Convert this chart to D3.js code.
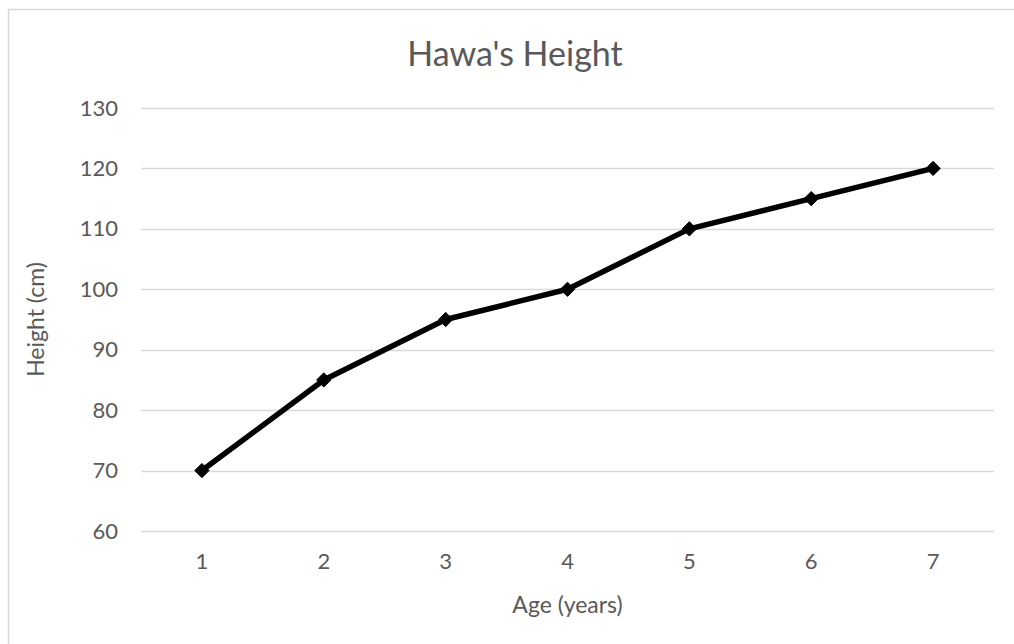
<!DOCTYPE html>
<html>
<head>
<meta charset="utf-8">
<script src="https://cdn.jsdelivr.net/npm/d3@7"></script>
<style>
  html, body { margin: 0; padding: 0; background: #fff; }
  svg { display: block; font-family: Lato, "Open Sans", sans-serif; }
</style>
</head>
<body>
<svg id="chart" width="1014" height="644"></svg>
<script>
// Hawa's height by age
const ages = ["1", "2", "3", "4", "5", "6", "7"];
const heights = [70, 85, 95, 100, 110, 115, 120];
const yTicks = [60, 70, 80, 90, 100, 110, 120, 130];

const titleText = "Hawa's Height";
const xTitle = "Age (years)";
const yTitle = "Height (cm)";

const svg = d3.select("#chart");
const W = 1014, H = 644;
const plot = { left: 141, right: 994, top: 108, bottom: 531 };
const textColor = "#595959";
const gridColor = "#d9d9d9";
const font = "Lato, 'Open Sans', sans-serif";

// outer chart frame
svg.append("rect")
  .attr("x", 8.5).attr("y", 9.5)
  .attr("width", W + 20).attr("height", H + 20)
  .attr("fill", "#fff")
  .attr("stroke", gridColor).attr("stroke-width", 1.5);

const x = d3.scaleBand().domain(ages).range([plot.left, plot.right]).padding(0);
const y = d3.scaleLinear().domain([60, 130]).range([plot.bottom, plot.top]);

// horizontal gridlines
svg.append("g")
  .selectAll("line")
  .data(yTicks)
  .join("line")
  .attr("x1", plot.left).attr("x2", plot.right)
  .attr("y1", d => Math.round(y(d)) + 0.5).attr("y2", d => Math.round(y(d)) + 0.5)
  .attr("stroke", gridColor).attr("stroke-width", 1.5);

// y axis labels
const yAxis = d3.axisLeft(y).tickValues(yTicks).tickSize(0).tickPadding(0);
svg.append("g")
  .attr("transform", `translate(${plot.left - 23},0)`)
  .call(yAxis)
  .call(g => g.select(".domain").remove())
  .call(g => g.selectAll("text")
    .attr("fill", textColor)
    .attr("font-size", 22)
    .attr("font-family", font));

// x axis labels
const xAxis = d3.axisBottom(x).tickSize(0).tickPadding(0);
svg.append("g")
  .attr("transform", `translate(0,${plot.bottom + 22})`)
  .call(xAxis)
  .call(g => g.select(".domain").remove())
  .call(g => g.selectAll("text")
    .attr("fill", textColor)
    .attr("font-size", 22)
    .attr("font-family", font));

// title
svg.append("text")
  .attr("x", 515)
  .attr("y", 66)
  .attr("text-anchor", "middle")
  .attr("fill", textColor)
  .attr("font-size", 34)
  .text(titleText);

// axis titles
svg.append("text")
  .attr("x", (plot.left + plot.right) / 2)
  .attr("y", 613)
  .attr("text-anchor", "middle")
  .attr("fill", textColor)
  .attr("font-size", 23)
  .text(xTitle);

svg.append("text")
  .attr("transform", `translate(44,${(plot.top + plot.bottom) / 2}) rotate(-90)`)
  .attr("text-anchor", "middle")
  .attr("fill", textColor)
  .attr("font-size", 23)
  .text(yTitle);

// data line
const cx = d => x(d) + x.bandwidth() / 2;
const line = d3.line()
  .x((d, i) => cx(ages[i]))
  .y(d => y(d));

svg.append("path")
  .datum(heights)
  .attr("d", line)
  .attr("fill", "none")
  .attr("stroke", "#000")
  .attr("stroke-width", 5.5)
  .attr("stroke-linejoin", "round");

// diamond markers
const diamond = d3.symbol().type(d3.symbolDiamond2).size(130);
svg.append("g")
  .selectAll("path")
  .data(heights)
  .join("path")
  .attr("transform", (d, i) => `translate(${cx(ages[i])},${y(d)})`)
  .attr("d", diamond)
  .attr("fill", "#000")
  .attr("stroke", "#000")
  .attr("stroke-width", 1);
</script>
</body>
</html>
